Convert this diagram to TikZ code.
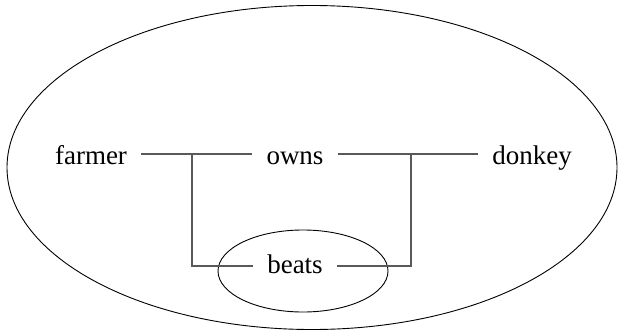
\documentclass[tikz,border=0pt]{standalone}
\usepackage{fontspec}
\setmainfont{Liberation Serif}
\newfontfamily\wordfont{Liberation Serif}
\begin{document}
\begin{tikzpicture}[x=1pt,y=1pt,
  word/.style={anchor=base,inner xsep=14pt,inner ysep=2pt,font=\wordfont\fontsize{27}{29}\selectfont},
  link/.style={draw=black!65,line width=1.1pt},
  ring/.style={draw=black,line width=0.9pt}]
\useasboundingbox (0,0) rectangle (620,333);
\draw[ring] (312,165.5) ellipse [x radius=305,y radius=162];
\draw[ring] (303,62) ellipse [x radius=85,y radius=41];
\node[word] (farmer) at (91,169) {farmer};
\node[word] (owns) at (295,169) {owns};
\node[word] (donkey) at (532,169) {donkey};
\node[word] (beats) at (295,60) {beats};
\coordinate (j1) at (192,179);
\coordinate (j2) at (411,179);
\coordinate (j3) at (192,67);
\coordinate (j4) at (411,67);
\draw[link] (farmer.east |- j1) -- (owns.west |- j1);
\draw[link] (owns.east |- j2) -- (donkey.west |- j2);
\draw[link] (j1) -- (j3) -- (beats.west |- j3);
\draw[link] (j2) -- (j4) -- (beats.east |- j4);
\end{tikzpicture}
\end{document}
